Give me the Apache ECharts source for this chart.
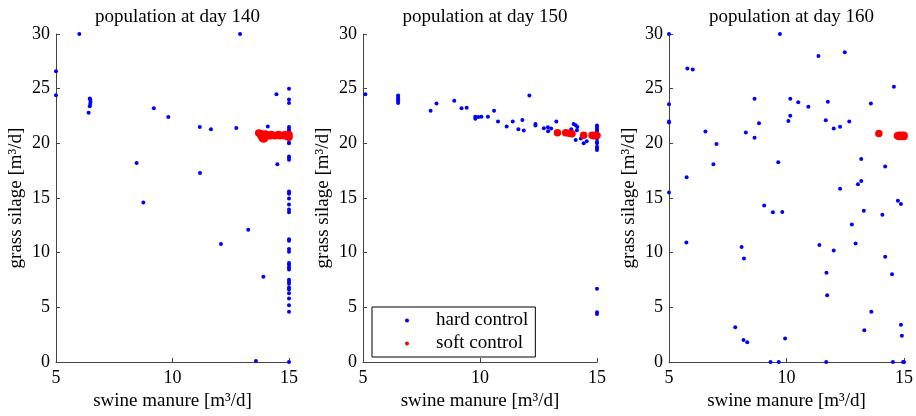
<!DOCTYPE html>
<html><head><meta charset="utf-8">
<script src="https://cdn.jsdelivr.net/npm/echarts@6/dist/echarts.min.js"></script>
<style>html,body{margin:0;padding:0;background:#fff}#c{width:916px;height:416px}</style>
</head><body><div id="c"></div>
<script>
const titles = ['population at day 140', 'population at day 150', 'population at day 160'];
const xTicks = [5, 10, 15];
const yTicks = [0, 5, 10, 15, 20, 25, 30];
const xLabel = 'swine manure [m³/d]';
const yLabel = 'grass silage [m³/d]';
const seriesNames = ['hard control', 'soft control'];

const day140Hard = [[6.0,30],[5,26.6],[5,24.4],[6.45,24.1],[6.47,24.0],[6.48,23.8],[6.47,23.6],[6.45,23.4],[6.4,22.8],
 [9.2,23.2],[9.82,22.4],[11.17,21.5],[11.65,21.3],[12.74,21.4],[12.9,30],[14.09,21.55],[14.46,24.5],[14.5,18.1],
 [8.46,18.2],[11.18,17.3],[8.75,14.6],[12.08,10.8],[13.25,12.1],[13.9,7.8],[13.58,0.1],
 [15,25.0],[15,24.0],[15,23.7],[15,21.5],[15,21.3],[15,21.1],[15,20.05],[15,20.0],[15,18.8],[15,18.7],[15,18.5],
 [15,15.6],[15,15.5],[15,15.4],[15,14.95],[15,14.4],[15,13.95],[15,13.7],[15,11.24],[15,11.1],[15,10.33],[15,10.1],
 [15,9.07],[15,8.9],[15,8.68],[15,8.47],[15,7.53],[15,7.38],[15,7.17],[15,6.81],[15,6.63],[15,6.3],[15,5.81],
 [15,5.2],[15,4.6],[15,0]];
const day140Soft = [[13.7,20.95],[13.75,20.9],[13.8,20.7],[13.85,20.5],[13.9,20.4],[13.95,20.45],[14.0,20.6],
 [14.05,20.7],[14.1,20.75],[14.2,20.7],[14.3,20.75],[14.4,20.7],[14.5,20.75],[14.6,20.7],[14.7,20.75],[14.8,20.7],
 [14.9,20.75],[14.95,20.6],[15,20.8],[15,20.55],[13.85,20.85],[14.0,20.85],[14.25,20.8],[14.55,20.8],[14.85,20.8]];

const day150Hard = [[5.1,24.5],[6.5,24.37],[6.5,24.19],[6.5,24.04],[6.5,23.86],[6.5,23.7],[7.89,22.98],[8.14,23.64],
 [8.9,23.9],[9.21,23.2],[9.43,23.25],[9.8,22.44],[9.8,22.26],[9.93,22.4],[10.06,22.44],[10.34,22.44],[10.6,22.98],
 [10.77,22.0],[11.14,21.54],[11.4,21.99],[11.64,21.3],[11.81,22.14],[11.87,21.17],[12.11,24.37],[12.37,21.78],
 [12.37,21.63],[12.73,21.39],[12.9,21.48],[12.91,21.11],[13.04,21.36],[13.26,21.99],[13.9,21.3],[14.0,21.78],
 [14.09,21.66],[14.16,21.5],[14.14,21.2],[14.09,20.3],[14.31,20.45],[14.43,20.0],[14.56,20.2],
 [15,21.63],[15,21.5],[15,21.36],[15,21.2],[15,21.05],[15,20.9],[15,20.75],[15,20.45],[15,20.15],[15,20.0],
 [15,19.7],[15,19.55],[15,19.4],[15,6.7],[15,4.55],[15,4.4]];
const day150Soft = [[13.31,20.96],[13.66,20.96],[13.8,20.93],[13.93,20.87],[14.43,20.75],[14.79,20.75],[14.85,20.7],
 [14.9,20.72],[14.95,20.75],[15,20.72]];

const day160Hard = [[5,30],[5,23.58],[5,22.0],[5,21.9],[5,15.5],[5.78,26.84],[6.01,26.75],[5.75,16.9],[6.55,21.08],
 [7.02,19.94],[6.89,18.1],[8.27,20.99],[8.64,24.07],[8.64,20.51],[8.83,21.84],[9.05,14.31],[9.65,18.28],[9.72,30],
 [10.08,22.05],[10.16,22.53],[10.16,24.07],[10.5,23.77],[10.93,23.34],[11.36,27.98],[11.67,22.11],[11.76,23.8],
 [12.01,21.36],[12.28,21.51],[12.28,15.84],[12.48,28.34],[12.67,21.99],[13.04,16.27],[13.18,16.57],[13.18,18.58],
 [13.59,23.64],[14.2,17.89],[14.57,25.18],[14.74,14.76],[14.87,14.46],
 [5.74,10.94],[9.42,13.7],[9.82,13.73],[7.82,3.18],[8.09,10.52],[8.19,9.48],[8.17,2.03],[8.33,1.82],[9.32,0],
 [9.67,0],[9.94,2.15],[11.4,10.7],[11.69,0],[11.7,8.18],[11.73,6.12],[12.01,10.21],[12.78,12.58],[12.94,10.85],
 [13.29,13.85],[13.31,2.91],[13.61,4.61],[14.08,13.48],[14.2,9.64],[14.49,8.03],[14.53,0],[14.87,3.42],[14.91,2.42],
 [15,0],[14.96,0]];
const day160Soft = [[13.93,20.9],[14.72,20.7],[14.78,20.75],[14.84,20.7],[14.9,20.75],[14.96,20.7],[15,20.75],
 [14.78,20.62],[14.9,20.62],[15,20.62]];

const hardSets = [day140Hard, day150Hard, day160Hard];
const softSets = [day140Soft, day150Soft, day160Soft];

const lefts = [56, 363, 669];
const widths = [233, 234, 235];
const font = '"Liberation Serif", "Times New Roman", serif';

const chart = echarts.init(document.getElementById('c'));
const grid = [], xAxis = [], yAxis = [], title = [], series = [];
for (let i = 0; i < 3; i++) {
  grid.push({left: lefts[i], top: 34, width: widths[i], height: 332});
  title.push({text: titles[i], left: lefts[i] + widths[i] / 2, top: 3, textAlign: 'center',
    textStyle: {fontFamily: font, fontSize: 19, fontWeight: 'normal', color: '#000'}});
  xAxis.push({gridIndex: i, type: 'value', min: xTicks[0], max: xTicks[xTicks.length - 1], interval: 5,
    name: xLabel, nameLocation: 'middle', nameGap: 26,
    nameTextStyle: {fontFamily: font, fontSize: 19, color: '#000'},
    axisLine: {show: true, lineStyle: {color: '#444', width: 1}},
    axisTick: {show: true, inside: true, length: 4, lineStyle: {color: '#444'}},
    axisLabel: {fontFamily: font, fontSize: 18, color: '#000', margin: 7},
    splitLine: {show: false}});
  yAxis.push({gridIndex: i, type: 'value', min: yTicks[0], max: yTicks[yTicks.length - 1], interval: 5,
    name: yLabel, nameLocation: 'middle', nameGap: 30, nameRotate: 90,
    nameTextStyle: {fontFamily: font, fontSize: 19, color: '#000'},
    axisLine: {show: true, lineStyle: {color: '#444', width: 1}},
    axisTick: {show: true, inside: true, length: 4, lineStyle: {color: '#444'}},
    axisLabel: {fontFamily: font, fontSize: 18, color: '#000', margin: 6},
    splitLine: {show: false}});
  series.push({name: seriesNames[0], type: 'scatter', xAxisIndex: i, yAxisIndex: i, data: hardSets[i],
    symbolSize: 4, itemStyle: {color: '#0000ff', opacity: 1}, clip: false, z: 2});
  series.push({name: seriesNames[1], type: 'scatter', xAxisIndex: i, yAxisIndex: i, data: softSets[i],
    symbolSize: 7.5, itemStyle: {color: '#ff0000', opacity: 1}, clip: false, z: 3});
}
chart.setOption({
  animation: false,
  title, grid, xAxis, yAxis, series,
  legend: {data: seriesNames, left: 372, top: 307, orient: 'vertical',
    backgroundColor: '#fff', borderColor: '#000', borderWidth: 1, padding: [4, 7, 4, 33],
    itemWidth: 4, itemHeight: 4, itemGap: 4, icon: 'circle',
    textStyle: {fontFamily: font, fontSize: 19, color: '#000', padding: [0, 0, 0, 22]}}
});
</script></body></html>
